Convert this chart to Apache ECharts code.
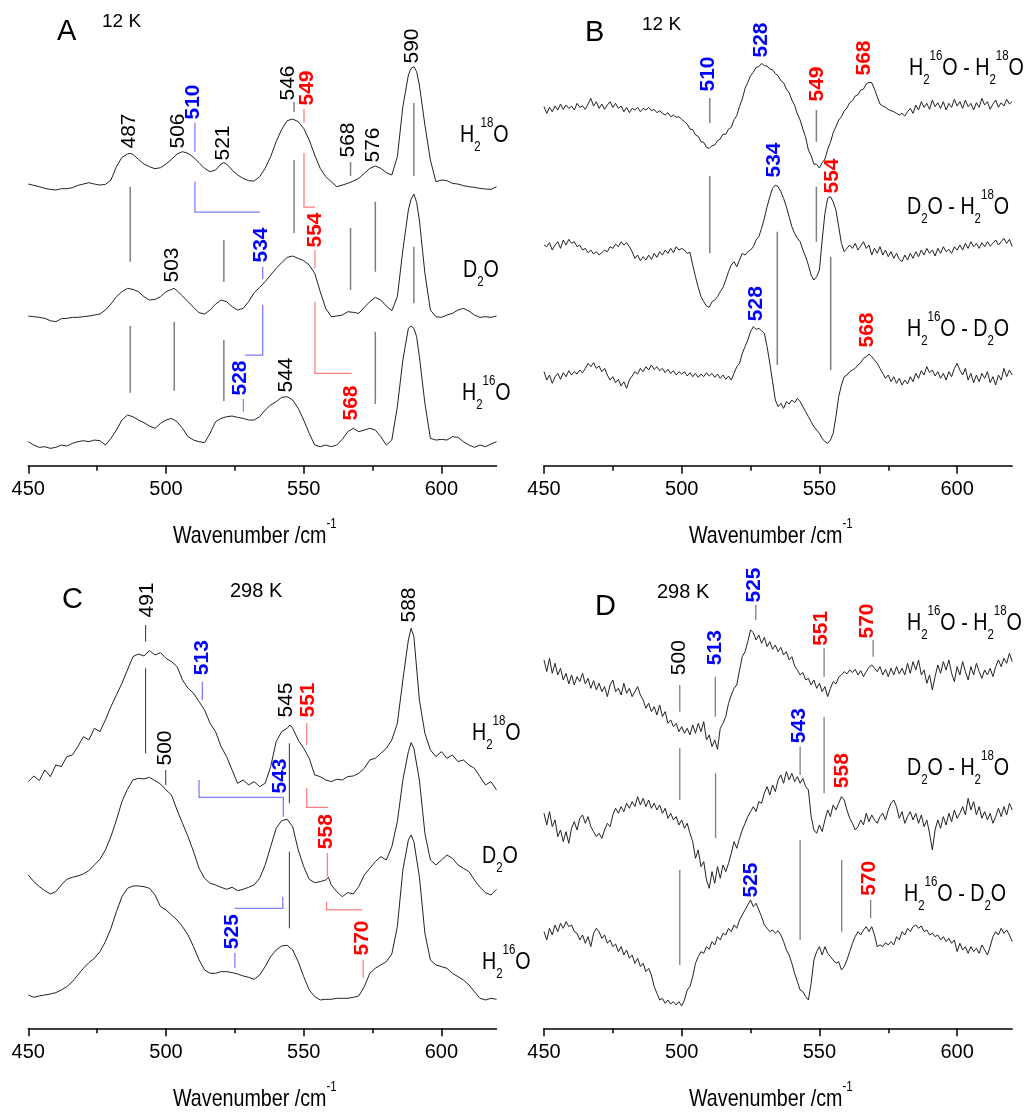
<!DOCTYPE html>
<html>
<head>
<meta charset="utf-8">
<script src="https://cdn.jsdelivr.net/npm/echarts@6/dist/echarts.min.js"></script>
<style>
  html, body { margin: 0; padding: 0; background: #fff; }
  #chart { width: 1029px; height: 1117px; }
</style>
</head>
<body>
<div id="chart"></div>
<script>
// wavenumber sampling (1 cm-1) used by the difference spectra in B and D
const wn1 = Array.from({ length: 171 }, (_, i) => 450 + i)

// ---- panel A, 12 K, absorbance (a.u., offset for stacking) ----
const A_h18 = [[450,845],[452,841],[454,837],[456,832],[458,829],[460,827],[462,831],[464,831],[466,834],[468,841],[470,845],[472,849],[474,845],[476,842],[478,844],[480,857],[482,897],[484,925],[486,935],[487,937],[488,934],[490,919],[492,905],[494,897],[496,891],[498,894],[500,905],[502,919],[504,935],[506,942],[508,937],[510,925],[512,909],[514,892],[516,882],[518,887],[520,905],[521,909],[522,905],[524,887],[526,872],[528,862],[530,855],[532,854],[534,867],[536,892],[538,927],[540,972],[542,1009],[544,1035],[546,1040],[548,1032],[550,1012],[552,977],[554,932],[556,892],[558,867],[560,852],[562,837],[564,842],[566,847],[568,854],[570,862],[572,877],[574,892],[576,899],[578,892],[580,879],[582,872],[584,927],[586,1077],[588,1172],[589,1192],[590,1197],[591,1182],[592,1142],[594,1022],[596,917],[598,852],[600,857],[602,855],[604,847],[606,845],[608,840],[610,837],[612,835],[614,832],[616,830],[618,829],[620,837]]
const A_d2o = [[450,449],[452,447],[454,445],[456,442],[458,435],[460,432],[462,441],[464,442],[466,445],[468,445],[470,447],[472,449],[474,452],[476,455],[478,467],[480,485],[482,507],[484,522],[486,532],[488,529],[490,522],[492,507],[494,497],[496,499],[498,507],[500,522],[502,529],[503,532],[504,525],[506,509],[508,492],[510,475],[512,459],[514,455],[516,467],[518,485],[520,497],[522,492],[524,477],[526,467],[528,472],[530,492],[532,519],[534,535],[536,552],[538,572],[540,592],[542,609],[544,625],[546,629],[548,622],[550,615],[552,602],[554,577],[556,522],[558,472],[560,447],[562,449],[564,452],[566,462],[568,460],[570,457],[572,475],[574,492],[576,505],[578,497],[580,479],[582,465],[584,507],[586,647],[588,767],[589,800],[590,815],[591,790],[592,737],[594,577],[596,467],[598,447],[600,445],[602,452],[604,457],[606,467],[608,472],[610,464],[612,452],[614,445],[616,447],[618,445],[620,449]]
const A_h16 = [[450,72],[452,62],[454,55],[456,57],[458,52],[460,55],[462,62],[464,59],[466,67],[468,72],[470,75],[472,72],[474,77],[476,75],[478,62],[480,82],[482,107],[484,137],[486,152],[488,147],[490,137],[492,129],[494,119],[496,112],[498,127],[500,137],[502,142],[504,132],[506,112],[508,87],[510,77],[512,72],[514,69],[516,97],[518,132],[520,142],[522,147],[524,149],[526,145],[528,142],[530,137],[532,137],[534,147],[536,167],[538,182],[540,192],[542,205],[544,207],[546,197],[548,172],[550,137],[552,97],[554,62],[556,57],[558,62],[560,57],[562,62],[564,79],[566,102],[568,112],[570,102],[572,107],[574,112],[576,107],[578,87],[580,62],[582,77],[584,177],[586,317],[588,412],[589,419],[590,412],[591,387],[592,327],[594,187],[596,82],[598,77],[600,79],[602,77],[604,87],[606,85],[608,72],[610,62],[612,55],[614,62],[616,57],[618,65],[620,72]]

// ---- panel B, 12 K difference spectra ----
const B_h16_h18 = [1077,1057,1075,1062,1079,1067,1085,1069,1082,1072,1079,1067,1087,1075,1079,1069,1085,1102,1079,1092,1072,1085,1069,1082,1092,1075,1087,1072,1079,1062,1075,1059,1072,1067,1075,1062,1072,1067,1075,1065,1069,1059,1065,1057,1052,1059,1047,1052,1045,1047,1039,1032,1025,1010,1008,992,988,972,970,955,952,960,962,975,980,995,994,1010,1015,1038,1050,1078,1100,1132,1150,1170,1180,1195,1197,1207,1200,1199,1190,1188,1176,1170,1155,1149,1130,1119,1097,1081,1055,1037,1010,985,947,930,905,904,893,909,920,949,970,999,1017,1037,1047,1064,1073,1089,1095,1109,1113,1127,1130,1145,1150,1149,1130,1107,1085,1079,1075,1069,1065,1062,1057,1052,1057,1049,1062,1072,1057,1082,1067,1092,1075,1087,1069,1097,1077,1089,1072,1092,1067,1087,1075,1099,1079,1092,1072,1097,1077,1087,1067,1089,1075,1102,1082,1092,1069,1085,1097,1075,1089,1079,1099,1085,1092]
const B_d2o_h18 = [662,657,669,647,662,672,652,677,662,679,667,672,657,662,647,652,639,647,635,642,632,639,647,642,657,652,665,657,672,662,669,657,642,622,632,615,627,617,632,619,637,625,642,632,647,637,652,639,657,647,652,647,637,640,602,567,535,507,492,479,475,492,497,507,522,535,557,582,602,612,597,617,637,632,642,647,657,677,687,712,742,777,807,832,842,837,822,802,777,747,717,697,682,672,647,627,602,572,557,567,587,677,757,802,807,792,767,717,667,642,652,662,652,667,647,659,672,652,662,632,652,637,657,632,647,627,642,622,637,619,612,632,617,637,622,642,627,647,632,652,637,647,629,652,637,657,642,649,637,657,647,662,647,667,652,672,657,667,652,669,657,672,659,667,677,662,672,682,667,679,657]
const B_h16_d2o = [282,257,272,247,267,277,259,279,267,285,272,282,275,287,279,292,307,297,309,292,299,282,292,272,257,267,249,259,239,252,232,257,269,282,275,292,282,297,287,302,289,297,285,292,279,289,277,285,272,282,275,282,269,279,267,277,265,275,267,279,269,277,265,275,262,272,259,269,257,277,297,307,337,357,377,402,417,409,412,405,397,357,307,252,197,177,187,172,192,185,197,189,202,192,177,162,147,132,117,107,97,82,72,67,77,97,147,207,242,267,272,282,287,292,302,309,322,327,335,327,317,307,292,277,262,272,252,267,247,262,242,257,245,267,252,277,262,285,272,297,279,287,269,282,262,277,257,282,267,292,307,287,272,292,257,277,249,272,252,277,262,282,249,267,242,272,257,292,267,287,272]

// ---- panel C, 298 K ----
const C_h18 = [[450,740],[452,757],[454,743],[456,775],[458,755],[460,790],[462,785],[464,815],[466,820],[468,845],[470,875],[472,865],[474,900],[476,890],[478,925],[480,965],[482,1000],[484,1035],[486,1075],[488,1115],[490,1123],[492,1117],[494,1133],[496,1120],[498,1127],[500,1110],[502,1100],[504,1085],[506,1045],[508,1020],[510,1005],[512,980],[514,955],[516,915],[518,890],[520,845],[522,815],[524,775],[526,735],[528,745],[530,730],[532,740],[534,725],[536,735],[538,785],[540,860],[542,890],[544,900],[545,910],[546,900],[548,865],[550,840],[552,810],[554,760],[556,755],[558,745],[560,740],[562,747],[564,745],[566,755],[568,757],[570,765],[572,780],[574,805],[576,810],[578,825],[580,840],[582,865],[584,915],[586,1045],[588,1165],[589,1200],[590,1175],[592,985],[594,885],[596,835],[598,815],[600,830],[602,810],[604,820],[606,800],[608,805],[610,790],[612,780],[614,755],[616,730],[618,740],[620,715]]
const C_d2o = [[450,460],[452,440],[454,425],[456,413],[458,403],[460,410],[462,430],[464,447],[466,453],[468,457],[470,463],[472,473],[474,490],[476,507],[478,535],[480,575],[482,625],[484,680],[486,717],[488,745],[490,750],[492,748],[494,753],[496,743],[498,733],[500,715],[502,700],[504,655],[506,615],[508,575],[510,530],[512,480],[514,450],[516,435],[518,430],[520,423],[522,417],[524,423],[526,413],[528,417],[530,423],[532,430],[534,450],[536,490],[538,545],[540,600],[542,623],[544,627],[546,605],[548,535],[550,485],[552,447],[554,437],[556,440],[558,445],[559,453],[560,430],[562,410],[564,395],[566,407],[568,403],[570,425],[572,460],[574,480],[576,500],[578,515],[580,505],[582,545],[584,620],[586,745],[588,830],[589,857],[590,840],[592,745],[594,585],[596,505],[598,490],[600,505],[602,520],[604,510],[606,490],[608,480],[610,470],[612,445],[614,423],[616,407],[618,400],[620,417]]
const C_h16 = [[450,100],[452,93],[454,97],[456,100],[458,103],[460,107],[462,115],[464,125],[466,140],[468,160],[470,180],[472,197],[474,210],[476,230],[478,260],[480,300],[482,350],[484,395],[486,420],[488,427],[490,427],[492,425],[494,420],[496,400],[498,365],[500,355],[502,340],[504,325],[506,305],[508,280],[510,245],[512,205],[514,175],[516,165],[518,165],[520,170],[522,170],[524,167],[526,163],[528,157],[530,153],[532,147],[534,160],[536,185],[538,215],[540,235],[542,247],[544,249],[546,235],[548,200],[550,155],[552,115],[554,95],[556,85],[558,87],[560,87],[562,90],[564,90],[566,90],[568,93],[570,97],[572,125],[574,165],[576,180],[578,190],[580,200],[582,223],[584,305],[586,475],[588,565],[589,580],[590,560],[592,455],[594,285],[596,205],[598,190],[600,185],[602,180],[604,165],[606,155],[608,145],[610,130],[612,110],[614,90],[616,85],[618,90],[620,87]]

// ---- panel D, 298 K difference spectra ----
const D_h16_h18 = [1105,1070,1110,1065,1095,1060,1080,1045,1065,1033,1060,1030,1055,1040,1065,1033,1050,1020,1043,1015,1035,1010,1025,995,1030,1045,1010,1020,1000,1035,1005,1020,995,1010,1025,1000,985,960,975,950,965,940,970,935,950,915,925,905,915,890,905,885,900,880,910,885,915,890,920,865,880,845,865,837,900,915,935,975,1000,1020,1030,1075,1115,1130,1160,1195,1187,1165,1180,1155,1173,1145,1160,1137,1150,1130,1143,1120,1130,1105,1115,1087,1075,1060,1067,1045,1050,1030,1045,1020,1035,1010,1025,995,1020,1040,1033,1053,1060,1070,1063,1075,1067,1077,1060,1073,1055,1070,1083,1090,1080,1070,1085,1060,1077,1055,1080,1060,1085,1063,1080,1060,1095,1065,1100,1075,1105,1060,1075,1035,1060,1015,1055,1090,1065,1100,1075,1105,1065,1040,1085,1060,1100,1070,1045,1085,1060,1095,1070,1050,1075,1060,1080,1055,1085,1105,1085,1110,1095,1125,1100]
const D_d2o_h18 = [645,610,650,605,625,575,595,560,590,555,600,620,595,630,640,615,635,605,590,575,585,570,595,615,605,640,660,645,665,650,675,660,680,665,695,670,690,665,685,660,675,655,670,645,660,630,645,625,635,610,625,600,615,585,560,510,535,485,500,445,420,470,435,485,450,490,470,495,525,560,540,570,595,615,635,650,665,650,680,675,705,725,700,730,710,745,760,735,770,745,765,740,755,735,750,725,715,635,595,585,610,590,625,655,635,670,655,675,695,685,655,630,615,595,605,625,610,645,620,640,625,615,635,645,625,655,675,685,665,630,650,615,635,650,625,645,615,640,605,625,585,535,595,625,600,635,610,645,620,655,630,645,665,640,690,655,680,640,665,630,650,625,645,615,635,660,635,665,640,675,655]
const D_h16_d2o = [290,265,300,280,310,290,315,300,320,305,310,290,285,265,280,255,275,245,285,300,290,270,280,255,265,245,253,230,245,220,235,210,220,195,210,185,195,170,180,160,125,105,85,90,75,85,73,80,70,80,67,85,115,125,155,195,215,230,225,245,237,260,250,275,265,285,280,300,290,310,300,325,340,355,370,385,365,375,355,335,310,300,290,295,285,293,280,260,235,220,195,165,140,115,110,95,85,135,205,230,245,220,245,225,215,205,195,200,175,185,205,230,255,275,290,280,295,305,290,305,280,245,250,245,257,250,260,250,275,265,290,280,300,290,305,310,300,307,290,295,280,285,275,280,265,275,260,270,255,265,230,255,235,245,225,245,230,240,225,250,235,220,245,275,290,280,300,285,295,280,260]

// ---- peak markers: [wavenumber, from, to] and bracket polylines ----
const A_ticks = [[487,837,612],[487,419,219],[521,677,552],[521,377,194],[546.5,1091,1061],[546.5,917,697],[567,911,869],[567,713,527],[576,792,582],[576,402,185],[590,1088,869],[590,657,487],[503,432,225]]
const A_blue = [[[510.5,1029],[510.5,942]],[[510.5,852],[510.5,761],[534.1,761]],[[535.1,597],[535.1,560]],[[535.1,482],[535.1,332],[528.7,332]],[[528.1,200],[528.1,162]]]
const A_red = [[[550.1,1070],[550.1,1028]],[[550.1,938],[550.1,776],[554.1,776]],[[554.1,647],[554.1,593]],[[554.1,492],[554.1,277],[567.4,277]]]
const A_labels = [['487',486.6,1004,'k'],['506',504.5,1004,'k'],['510',509.8,1091,'b'],['521',520.7,968,'k'],['546',544.4,1148,'k'],['549',551.3,1133,'r'],['568',566.1,977,'k'],['576',575.2,962,'k'],['590',589.3,1259,'k'],['534',534.7,662,'b'],['554',554.1,707,'r'],['503',502.1,602,'k'],['528',527.1,263,'b'],['544',543.6,272,'k'],['568',567.2,188,'r']]

const B_ticks = [[510.2,1103,1028],[510.2,869,637],[548.9,1067,972],[548.9,837,672],[534.7,702,302],[554.1,627,287]]
const B_labels = [['510',509.7,1175,'b'],['528',528.7,1277,'b'],['549',549.2,1145,'r'],['568',566.2,1223,'r'],['534',533.5,917,'b'],['554',554.7,869,'r'],['528',526.9,486,'b'],['568',567.2,407,'r']]

const C_ticks = [[492.6,1210,1160],[492.6,1080,825],[499.9,775,730],[544.8,855,675],[544.8,530,300]]
const C_blue = [[[513.2,1040],[513.2,985]],[[512,745],[512,693],[542.6,693],[542.6,635]],[[525,360],[542.4,360],[542.4,395]],[[525,226],[525,181]]]
const C_red = [[[551.1,916],[551.1,850]],[[551.1,720],[551.1,663],[558.9,663]],[[558.6,526],[558.6,455]],[[558.3,380],[558.3,355],[571.3,355]],[[571.6,205],[571.6,151]]]
const C_labels = [['491',493,1285,'k'],['513',513,1112,'b'],['545',543.8,985,'k'],['551',551.7,985,'r'],['543',541.4,757,'b'],['500',499.6,841,'k'],['588',588.4,1270,'k'],['558',558.3,590,'r'],['525',523.9,290,'b'],['570',571.1,271,'r']]

const D_ticks = [[526.9,1270,1225],[551.7,1140,1055],[569.5,1165,1115],[499.3,1030,950],[512.2,1055,935],[499.3,840,685],[512.3,765,570],[551.7,935,705],[543,845,760],[499.3,475,190],[543,565,265],[558.1,505,290],[568.6,385,330]]
const D_labels = [['525',526.5,1330,'b'],['551',550.7,1200,'r'],['570',567.4,1222,'r'],['500',499,1112,'k'],['513',512.3,1142,'b'],['543',542.6,908,'b'],['558',558.3,773,'r'],['525',525.3,445,'b'],['570',568,450,'r']]

const SANS = "'Liberation Sans', Arial, sans-serif"
const BLUE = '#0000ff', RED = '#ff0000', LBLUE = '#7f7fff', LRED = '#ff8080'
const SQUEEZE = 0.82 // the original lettering is a condensed face

const grids = [
  { left: 28.3, top: 5.7, width: 468.2, height: 460 },
  { left: 544, top: 5.7, width: 468.2, height: 460 },
  { left: 28.3, top: 568.3, width: 468.2, height: 460 },
  { left: 544, top: 568.3, width: 468.2, height: 460 }
]

const xMajor = grids.map((g, i) => ({
  type: 'value', gridIndex: i, position: 'bottom', min: 450, max: 620, interval: 50,
  axisLine: { lineStyle: { color: '#000', width: 1.5 } },
  axisTick: { length: 8, lineStyle: { color: '#000', width: 1.5 }, customValues: [450, 500, 550, 600] },
  axisLabel: { customValues: [450, 500, 550, 600], fontSize: 20, color: '#000', margin: 14, fontFamily: SANS },
  splitLine: { show: false }
}))
const xMinor = grids.map((g, i) => ({
  type: 'value', gridIndex: i, position: 'bottom', offset: 0, min: 450, max: 620, interval: 50,
  axisLine: { show: false },
  axisTick: { length: 5, lineStyle: { color: '#000', width: 1.5 }, customValues: [475, 525, 575] },
  axisLabel: { show: false }, splitLine: { show: false }
}))
const yAxes = grids.map((g, i) => ({ type: 'value', gridIndex: i, min: 0, max: 1380, show: false }))

const withWn = ys => ys.map((v, i) => [wn1[i], v])

function trace(idx, data) {
  return { type: 'line', xAxisIndex: idx, yAxisIndex: idx, data, showSymbol: false, symbol: 'none',
    lineStyle: { color: '#222', width: 1 }, silent: true, animation: false }
}
function marks(idx, ticks, tickColor, tickWidth, blue, red) {
  const data = ticks.map(t => ({ coords: [[t[0], t[1]], [t[0], t[2]]], lineStyle: { color: tickColor, width: tickWidth } }))
  blue.forEach(c => data.push({ coords: c, lineStyle: { color: LBLUE, width: 1.3 } }))
  red.forEach(c => data.push({ coords: c, lineStyle: { color: LRED, width: 1.3 } }))
  return { type: 'lines', coordinateSystem: 'cartesian2d', xAxisIndex: idx, yAxisIndex: idx, polyline: true,
    data, lineStyle: { opacity: 1 }, silent: true, animation: false, z: 1 }
}
function labels(idx, list) {
  return { type: 'scatter', xAxisIndex: idx, yAxisIndex: idx, symbolSize: 0, silent: true, animation: false,
    itemStyle: { opacity: 1 },
    label: { show: true, position: 'inside', rotate: 90, fontSize: 21, fontFamily: SANS, opacity: 1, formatter: p => p.data.t },
    data: list.map(l => ({ value: [l[1], l[2]], t: l[0],
      label: l[3] === 'k' ? { color: '#000' } : { color: l[3] === 'b' ? BLUE : RED, fontWeight: 'bold' } })) }
}

const richSub = {
  m: { fontSize: 24, lineHeight: 38, fontFamily: SANS, fill: '#000' },
  s: { fontSize: 14, lineHeight: 14, verticalAlign: 'bottom', fontFamily: SANS, fill: '#000' },
  u: { fontSize: 14, lineHeight: 14, verticalAlign: 'top', fontFamily: SANS, fill: '#000' }
}
const H18 = '{m|H}{s|2}{u|18}{m|O}', H16 = '{m|H}{s|2}{u|16}{m|O}', D2O = '{m|D}{s|2}{m|O}'
const XTITLE = '{m|Wavenumber /cm}{u|-1}'
function txt(x, y, text, size) {
  return { type: 'text', x, y, silent: true,
    style: { text, fontSize: size, fontFamily: SANS, fill: '#000', verticalAlign: 'middle', align: 'left' } }
}
function rtxt(x, y, text) {
  return { type: 'text', x, y, scaleX: SQUEEZE, silent: true,
    style: { text, rich: richSub, verticalAlign: 'middle', align: 'left', fontSize: 24, fontFamily: SANS, fill: '#000' } }
}

const chart = echarts.init(document.getElementById('chart'), null, { renderer: 'canvas' })
chart.setOption({
  backgroundColor: '#fff',
  animation: false,
  grid: grids,
  xAxis: xMajor.concat(xMinor),
  yAxis: yAxes,
  series: [
    marks(0, A_ticks, '#808080', 1.5, A_blue, A_red),
    trace(0, A_h18), trace(0, A_d2o), trace(0, A_h16),
    labels(0, A_labels),
    marks(1, B_ticks, '#808080', 1.5, [], []),
    trace(1, withWn(B_h16_h18)), trace(1, withWn(B_d2o_h18)), trace(1, withWn(B_h16_d2o)),
    labels(1, B_labels),
    marks(2, C_ticks, '#333', 1, C_blue, C_red),
    trace(2, C_h18), trace(2, C_d2o), trace(2, C_h16),
    labels(2, C_labels),
    marks(3, D_ticks, '#808080', 1.3, [], []),
    trace(3, withWn(D_h16_h18)), trace(3, withWn(D_d2o_h18)), trace(3, withWn(D_h16_d2o)),
    labels(3, D_labels)
  ],
  graphic: [
    txt(57, 32, 'A', 29), txt(102, 22, '12 K', 19),
    txt(585, 33, 'B', 29), txt(642, 25, '12 K', 19),
    txt(62, 600, 'C', 29), txt(230, 591, '298 K', 20),
    txt(595, 607, 'D', 29), txt(657, 592, '298 K', 20),
    rtxt(460, 135, H18), rtxt(463, 270, D2O), rtxt(462, 393, H16),
    rtxt(909, 68, H16 + '{m| - }' + H18), rtxt(907, 207, D2O + '{m| - }' + H18), rtxt(907, 329, H16 + '{m| - }' + D2O),
    rtxt(472, 733, H18), rtxt(482, 856, D2O), rtxt(482, 962, H16),
    rtxt(907, 623, H16 + '{m| - }' + H18), rtxt(907, 768, D2O + '{m| - }' + H18), rtxt(904, 894, H16 + '{m| - }' + D2O),
    rtxt(173, 536, XTITLE), rtxt(689, 536, XTITLE), rtxt(173, 1099, XTITLE), rtxt(689, 1099, XTITLE)
  ]
})
</script>
</body>
</html>
